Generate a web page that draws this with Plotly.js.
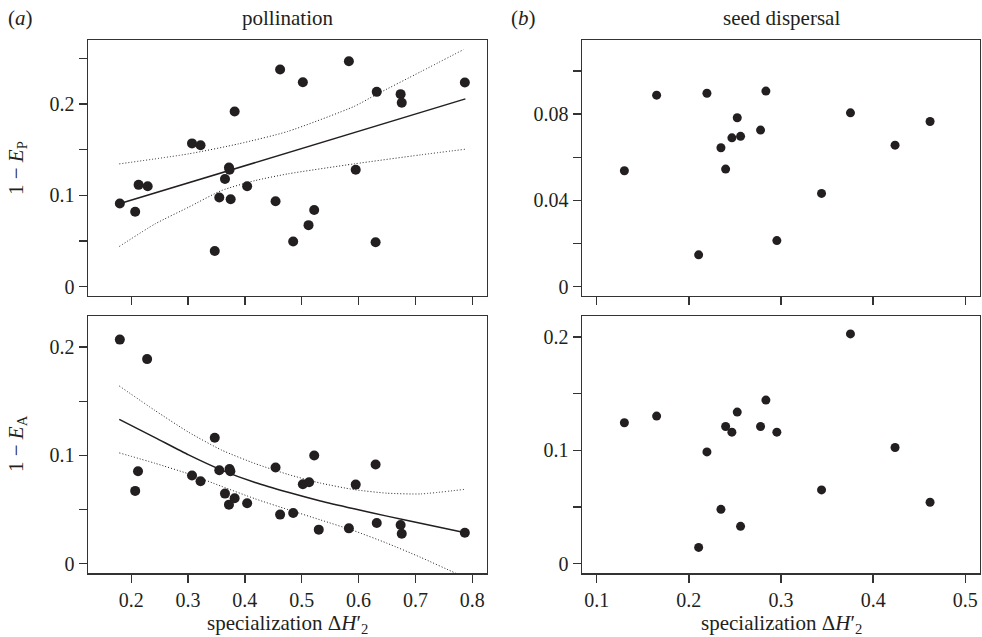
<!DOCTYPE html>
<html>
<head>
<meta charset="utf-8">
<script src="https://cdn.plot.ly/plotly-3.0.1.min.js"></script>
<style>html,body{margin:0;padding:0;background:#fff;}#chart{width:982px;height:637px;}</style>
</head>
<body>
<div id="chart"></div>
<script>
// ---- Data ----
// (a) pollination, 1 - E_P
const polX_P = [0.180,0.207,0.213,0.229,0.307,0.322,0.347,0.355,0.365,0.372,0.373,0.375,0.382,0.404,0.454,0.462,0.485,0.502,0.512,0.522,0.583,0.595,0.630,0.632,0.674,0.676,0.787];
const polY_P = [0.091,0.082,0.1115,0.110,0.157,0.155,0.039,0.0976,0.118,0.1305,0.128,0.0958,0.192,0.110,0.0936,0.238,0.0494,0.224,0.0673,0.084,0.247,0.128,0.0486,0.2135,0.211,0.2015,0.2238];
const fitP_x = [0.179,0.788];
const fitP_y = [0.0907,0.2058];
const ciP_up_x = [0.179,0.301,0.389,0.475,0.592,0.631,0.709,0.785];
const ciP_up_y = [0.1345,0.1455,0.1565,0.170,0.1975,0.2105,0.2355,0.260];
const ciP_lo_x = [0.179,0.242,0.301,0.359,0.418,0.476,0.592,0.709,0.788];
const ciP_lo_y = [0.0439,0.0687,0.087,0.1053,0.1162,0.1236,0.1345,0.1444,0.1506];

// (a) pollination, 1 - E_A
const polX_A = [0.180,0.207,0.212,0.228,0.307,0.322,0.347,0.355,0.365,0.372,0.373,0.3745,0.382,0.404,0.454,0.462,0.485,0.502,0.513,0.522,0.530,0.583,0.595,0.630,0.632,0.674,0.676,0.787];
const polY_A = [0.207,0.0673,0.0855,0.189,0.0815,0.0762,0.1164,0.0864,0.0648,0.0546,0.0875,0.0855,0.0605,0.0559,0.0889,0.0454,0.0469,0.0735,0.0753,0.100,0.0315,0.0327,0.0731,0.0917,0.0377,0.0358,0.0278,0.0287];
const fitA_x = [0.179,0.242,0.301,0.359,0.418,0.476,0.533,0.592,0.650,0.709,0.788];
const fitA_y = [0.1333,0.1165,0.1005,0.0865,0.0750,0.0660,0.0580,0.0508,0.0440,0.0374,0.0287];
const ciA_up_x = [0.179,0.242,0.301,0.359,0.418,0.476,0.533,0.592,0.650,0.709,0.788];
const ciA_up_y = [0.1642,0.1415,0.1215,0.1050,0.0925,0.0825,0.0745,0.0685,0.0652,0.0645,0.0688];
const ciA_lo_x = [0.179,0.242,0.301,0.359,0.418,0.476,0.533,0.592,0.650,0.709,0.770,0.787];
const ciA_lo_y = [0.1024,0.0928,0.0830,0.0715,0.0600,0.0500,0.0405,0.0305,0.0190,0.0060,-0.0085,-0.0125];

// (b) seed dispersal
const seedX = [0.130,0.165,0.2106,0.2196,0.2348,0.2399,0.2467,0.2525,0.2561,0.2778,0.2836,0.2955,0.344,0.3754,0.4238,0.4618];
const seedY_P = [0.0537,0.0888,0.0147,0.0897,0.0644,0.0545,0.069,0.0783,0.0697,0.0726,0.0907,0.0213,0.0432,0.0806,0.0656,0.0766];
const seedY_A = [0.1243,0.1302,0.0144,0.0986,0.0480,0.121,0.116,0.1337,0.033,0.121,0.1443,0.116,0.0651,0.2026,0.1025,0.0542];

// Tick definitions
const xTicksLeft = [0.2,0.3,0.4,0.5,0.6,0.7,0.8];
const xTickTextLeft = ['0.2','0.3','0.4','0.5','0.6','0.7','0.8'];
const xTicksRight = [0.1,0.2,0.3,0.4,0.5];
const xTickTextRight = ['0.1','0.2','0.3','0.4','0.5'];
const yTicksP = [0,0.05,0.1,0.15,0.2,0.25];
const yTickTextP = ['0','','0.1','','0.2',''];
const yTicksA = [0,0.05,0.1,0.15,0.2];
const yTickTextA = ['0','','0.1','','0.2'];
const yTicksSP = [0,0.02,0.04,0.06,0.08,0.10];
const yTickTextSP = ['0','','0.04','','0.08',''];
const yTicksSA = [0,0.05,0.1,0.15,0.2];
const yTickTextSA = ['0','','0.1','','0.2'];

// ---- Styling ----
const INK = '#231f20';
const FONT = "'Liberation Serif', 'DejaVu Serif', serif";
const FS_TICK = 20;
const FS_TITLE = 21;
const dot = (xa, ya, x, y, sz) => ({x, y, xaxis: xa, yaxis: ya, type: 'scatter', mode: 'markers',
  marker: {color: INK, size: sz}, hoverinfo: 'skip', showlegend: false});
const line = (xa, ya, x, y, dash, w) => ({x, y, xaxis: xa, yaxis: ya, type: 'scatter', mode: 'lines',
  line: {color: INK, width: w, dash: dash, shape: 'spline', smoothing: 0.6}, hoverinfo: 'skip', showlegend: false});

const DOTS = '1px,2px';
const data = [
  line('x','y', ciP_up_x, ciP_up_y, DOTS, 1),
  line('x','y', ciP_lo_x, ciP_lo_y, DOTS, 1),
  line('x','y', fitP_x, fitP_y, 'solid', 1.5),
  dot('x','y', polX_P, polY_P, 10),
  dot('x2','y2', seedX, seedY_P, 9),
  line('x3','y3', ciA_up_x, ciA_up_y, DOTS, 1),
  line('x3','y3', ciA_lo_x, ciA_lo_y, DOTS, 1),
  line('x3','y3', fitA_x, fitA_y, 'solid', 1.5),
  dot('x3','y3', polX_A, polY_A, 10),
  dot('x4','y4', seedX, seedY_A, 9)
];

const W = 982, H = 637;
const LX = [88/W, 487/W], RX = [582/W, 980/W];
const TY = [1-296/H, 1-40/H], BY = [1-573.3/H, 1-316/H];

function ax(domain, range, anchor, tv, tt, showLabels) {
  return {domain, range, anchor, showline: true, mirror: true, linecolor: '#333', linewidth: 1.4,
    ticks: 'outside', ticklen: 8, tickwidth: 1.4, tickcolor: '#333',
    tickmode: 'array', tickvals: tv, ticktext: tt, showticklabels: showLabels,
    showgrid: false, zeroline: false, fixedrange: true,
    tickfont: {family: FONT, size: FS_TICK, color: INK}};
}

const layout = {
  width: W, height: H, margin: {l: 0, r: 0, t: 0, b: 0},
  paper_bgcolor: '#fff', plot_bgcolor: '#fff',
  font: {family: FONT, size: FS_TITLE, color: INK},
  xaxis: ax(LX, [0.124, 0.826], 'y', xTicksLeft, xTickTextLeft, false),
  yaxis: ax(TY, [-0.0104, 0.2704], 'x', yTicksP, yTickTextP, true),
  xaxis2: ax(RX, [0.084, 0.516], 'y2', xTicksRight, xTickTextRight, false),
  yaxis2: ax(TY, [-0.0044, 0.1144], 'x2', yTicksSP, yTickTextSP, true),
  xaxis3: ax(LX, [0.124, 0.826], 'y3', xTicksLeft, xTickTextLeft, true),
  yaxis3: ax(BY, [-0.0088, 0.2288], 'x3', yTicksA, yTickTextA, true),
  xaxis4: ax(RX, [0.084, 0.516], 'y4', xTicksRight, xTickTextRight, true),
  yaxis4: ax(BY, [-0.0084, 0.2184], 'x4', yTicksSA, yTickTextSA, true),
  annotations: [
    {text: '(<i>a</i>)', xref: 'paper', yref: 'paper', x: 20/W, y: 1-18/H, showarrow: false, xanchor: 'center', yanchor: 'middle'},
    {text: 'pollination', xref: 'paper', yref: 'paper', x: 287/W, y: 1-18/H, showarrow: false, xanchor: 'center', yanchor: 'middle'},
    {text: '(<i>b</i>)', xref: 'paper', yref: 'paper', x: 523/W, y: 1-18/H, showarrow: false, xanchor: 'center', yanchor: 'middle'},
    {text: 'seed dispersal', xref: 'paper', yref: 'paper', x: 781/W, y: 1-18/H, showarrow: false, xanchor: 'center', yanchor: 'middle'},
    {text: '1 − <i>E</i><sub>P</sub>', xref: 'paper', yref: 'paper', x: 17/W, y: 1-168/H, textangle: -90, showarrow: false, xanchor: 'center', yanchor: 'middle'},
    {text: '1 − <i>E</i><sub>A</sub>', xref: 'paper', yref: 'paper', x: 17/W, y: 1-444/H, textangle: -90, showarrow: false, xanchor: 'center', yanchor: 'middle'},
    {text: 'specialization Δ<i>H</i>′<sub>2</sub>', xref: 'paper', yref: 'paper', x: 287/W, y: 1-624/H, showarrow: false, xanchor: 'center', yanchor: 'middle'},
    {text: 'specialization Δ<i>H</i>′<sub>2</sub>', xref: 'paper', yref: 'paper', x: 781/W, y: 1-624/H, showarrow: false, xanchor: 'center', yanchor: 'middle'}
  ]
};

Plotly.newPlot('chart', data, layout, {displayModeBar: false, staticPlot: true});
</script>
</body>
</html>
